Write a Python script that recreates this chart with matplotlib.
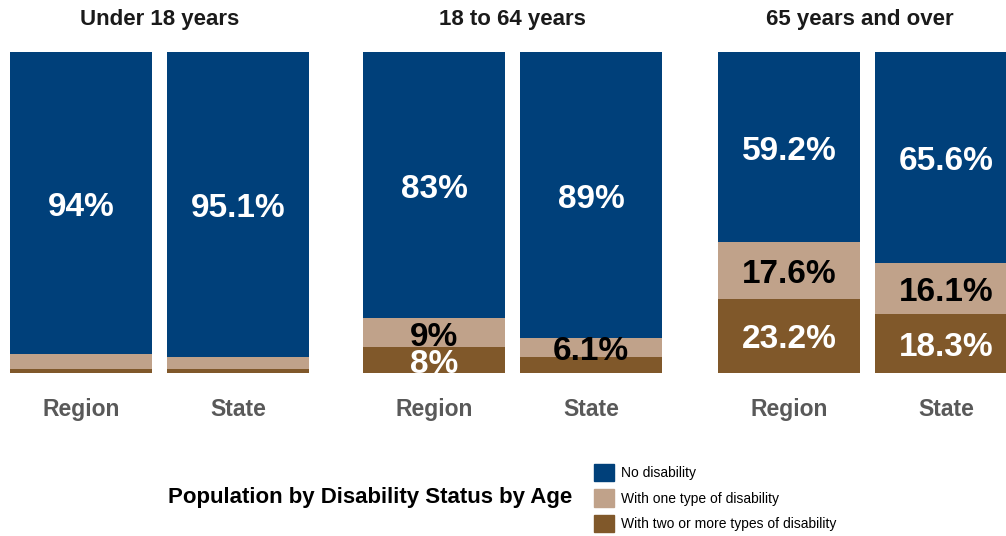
import matplotlib.pyplot as plt

plt.rcParams['font.family'] = ['Liberation Sans', 'DejaVu Sans']

age_groups = ["Under 18 years", "18 to 64 years", "65 years and over"]
areas = ["Region", "State"]
series = ["No disability", "With one type of disability",
          "With two or more types of disability"]

# percent of population, [Region, State] for each age group
no_dis = [[94.0, 95.1], [83.0, 89.0], [59.2, 65.6]]
one_dis = [[4.6, 3.7], [9.0, 6.1], [17.6, 16.1]]
two_dis = [[1.4, 1.2], [8.0, 4.9], [23.2, 18.3]]

colors = ["#00407A", "#C0A28A", "#80582A"]
text_colors = ["white", "black", "white"]

W, H = 1006, 536
fig = plt.figure(figsize=(W / 100, H / 100), dpi=100)

bar_w = 0.904
panel_left = [10, 363, 718]
panel_w = 299
top_px, bot_px = 52, 373
title_x = [0.5, 0.5, 0.475]

for g, name in enumerate(age_groups):
    ax = fig.add_axes([panel_left[g] / W, (H - bot_px) / H,
                       panel_w / W, (bot_px - top_px) / H])
    x = list(range(len(areas)))
    stacks = [two_dis[g], one_dis[g], no_dis[g]]
    cols = [colors[2], colors[1], colors[0]]
    tcols = [text_colors[2], text_colors[1], text_colors[0]]
    bottom = [0, 0]
    for vals, c, tc in zip(stacks, cols, tcols):
        ax.bar(x, vals, bar_w, bottom=bottom, color=c, edgecolor="none")
        for i, v in enumerate(vals):
            if v >= 5:
                ax.annotate(f"{v:g}%", (x[i], bottom[i] + v / 2),
                            xytext=(0, -3), textcoords="offset points",
                            ha="center", va="center", color=tc, fontsize=24,
                            fontweight="bold", annotation_clip=False)
        bottom = [b + v for b, v in zip(bottom, vals)]

    ax.set_xlim(-bar_w / 2, 1 + bar_w / 2)
    ax.set_ylim(0, 100)
    ax.set_xticks(x)
    ax.set_xticklabels(areas, fontsize=16.5, fontweight="bold", color="#595959")
    ax.tick_params(axis="x", length=0, pad=18)
    ax.set_yticks([])
    for s in ax.spines.values():
        s.set_visible(False)
    ax.text(title_x[g], 1 + (top_px - 20) / (bot_px - top_px), name,
            transform=ax.transAxes, ha="center", va="center",
            fontsize=16, fontweight="bold", color="#1a1a1a")

fig.text(370 / W, 1 - 497 / H, "Population by Disability Status by Age",
         ha="center", va="center", fontsize=16, fontweight="bold")

handles = [plt.Rectangle((0, 0), 1, 1, color=c) for c in colors]
fig.legend(handles, series, loc="upper left",
           bbox_to_anchor=(588 / W, 1 - 458 / H), frameon=False,
           fontsize=10, handlelength=1.45, handleheight=1.6,
           handletextpad=0.5, labelspacing=0.55, borderaxespad=0)

fig.savefig("out.png", dpi=100)
